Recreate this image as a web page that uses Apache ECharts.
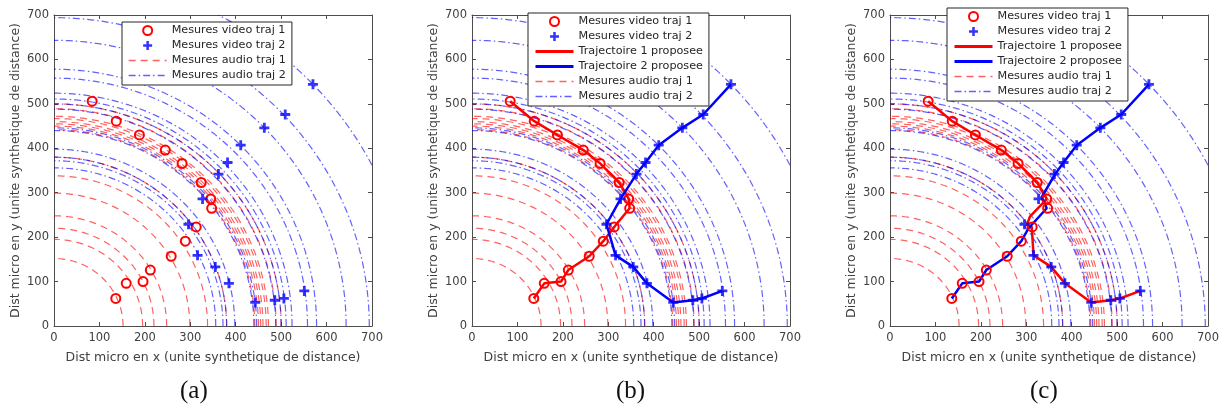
<!DOCTYPE html>
<html><head><meta charset="utf-8">
<script src="https://cdn.jsdelivr.net/npm/echarts@6/dist/echarts.min.js"></script>
<style>html,body{margin:0;padding:0;background:#fff}#c{width:1230px;height:412px}</style>
</head><body><div id="c"></div>
<script>
// ---------------- data ----------------
const axisTicks = [0, 100, 200, 300, 400, 500, 600, 700];
const panelLabels = ['(a)', '(b)', '(c)'];

const video1X = [136, 159, 196, 212, 258, 289, 313, 324, 345, 347, 282, 245, 188, 137, 84];
const video1Y = [62, 96, 100, 126, 157, 191, 223, 323, 286, 265, 366, 396, 430, 461, 506];
const video2X = [443, 486, 506, 551, 385, 355, 316, 296, 327, 362, 382, 411, 463, 509, 570];
const video2Y = [53, 58, 62, 79, 96, 133, 159, 229, 286, 342, 368, 407, 446, 476, 544];

const audio1R = [152, 195, 220, 248, 299, 338, 380, 442, 450, 455, 460, 467, 472, 489, 500];
const audio2R = [356, 372, 380, 398, 440, 446, 488, 500, 511, 524, 558, 578, 643, 694, 788];

const trajB1X = [136, 159, 196, 212, 258, 289, 313, 347, 345, 324, 282, 245, 188, 137, 84];
const trajB1Y = [62, 96, 100, 126, 157, 191, 223, 265, 286, 323, 366, 396, 430, 461, 506];
const trajB2X = [551, 506, 486, 443, 385, 355, 316, 296, 327, 362, 382, 411, 463, 509, 570];
const trajB2Y = [79, 62, 58, 53, 96, 133, 159, 229, 286, 342, 368, 407, 446, 476, 544];

const trajC1X = [84, 137, 188, 245, 282, 324, 345, 337, 308, 301, 312, 316, 355, 385, 443, 486, 506, 551];
const trajC1Y = [506, 461, 430, 396, 366, 323, 286, 277, 246, 227, 223, 159, 133, 96, 53, 58, 62, 79];
const trajC2X = [136, 159, 196, 212, 258, 289, 305, 345, 334, 363, 382, 411, 463, 509, 570];
const trajC2Y = [62, 96, 100, 126, 157, 191, 220, 265, 290, 341, 368, 407, 446, 476, 544];

// ---------------- helpers ----------------
const N_V1 = 'Mesures video traj 1', N_V2 = 'Mesures video traj 2';
const N_T1 = 'Trajectoire 1 proposee', N_T2 = 'Trajectoire 2 proposee';
const N_A1 = 'Mesures audio traj 1', N_A2 = 'Mesures audio traj 2';
const AX_MIN = axisTicks[0], AX_MAX = axisTicks[axisTicks.length - 1];

function zip(xs, ys) { return xs.map((x, i) => [x, ys[i]]); }
function arcs(radii) {
  const pts = [];
  radii.forEach(r => {
    const t0 = r > AX_MAX ? Math.acos(AX_MAX / r) : 0;
    const t1 = r > AX_MAX ? Math.asin(AX_MAX / r) : Math.PI / 2;
    const n = 120;
    for (let k = 0; k <= n; k++) {
      const t = t0 + (t1 - t0) * k / n;
      pts.push([r * Math.cos(t), r * Math.sin(t)]);
    }
    pts.push(['-', '-']);
  });
  return pts;
}
const plusPath = 'path://M3.6,0H6.4V3.6H10V6.4H6.4V10H3.6V6.4H0V3.6H3.6Z';

const gridLefts = [54, 472, 890];
const GW = 318, GTOP = 15, GH = 311;
const axisColor = '#4d4d4d', labelColor = '#404040';
const FONT = 'DejaVu Sans';

const grids = [], xAxes = [], yAxes = [], series = [], legends = [], graphics = [];
const hiddenSym = { color: 'transparent', borderColor: 'transparent', borderWidth: 0, opacity: 0 };

gridLefts.forEach((left, i) => {
  grids.push({ left: left, top: GTOP, width: GW, height: GH, containLabel: false });
  const common = {
    gridIndex: i, type: 'value', min: AX_MIN, max: AX_MAX, interval: axisTicks[1] - axisTicks[0],
    axisLine: { show: true, onZero: false, lineStyle: { color: axisColor, width: 1 } },
    axisTick: { show: true, inside: true, length: 4, lineStyle: { color: axisColor } },
    splitLine: { show: false }
  };
  xAxes.push(Object.assign({}, common, {
    position: 'bottom',
    axisLabel: { fontSize: 11.5, color: labelColor, margin: 6, fontFamily: FONT },
    name: 'Dist micro en x (unite synthetique de distance)', nameLocation: 'middle', nameGap: 25,
    nameTextStyle: { fontSize: 12.5, color: labelColor, fontFamily: FONT }
  }));
  xAxes.push(Object.assign({}, common, { position: 'top', axisLabel: { show: false } }));
  yAxes.push(Object.assign({}, common, {
    position: 'left',
    axisLabel: { fontSize: 11.5, color: labelColor, margin: 5, fontFamily: FONT },
    name: 'Dist micro en y (unite synthetique de distance)', nameLocation: 'middle', nameGap: 32,
    nameTextStyle: { fontSize: 12.5, color: labelColor, fontFamily: FONT }
  }));
  yAxes.push(Object.assign({}, common, { position: 'right', axisLabel: { show: false } }));

  const xi = i * 2, yi = i * 2;
  series.push({
    name: N_A1, type: 'line', xAxisIndex: xi, yAxisIndex: yi, data: arcs(audio1R),
    symbol: 'none', connectNulls: false, silent: true, z: 1,
    lineStyle: { color: 'rgba(255,0,0,0.62)', width: 1.2, type: [7, 5] },
    itemStyle: hiddenSym
  });
  series.push({
    name: N_A2, type: 'line', xAxisIndex: xi, yAxisIndex: yi, data: arcs(audio2R),
    symbol: 'none', connectNulls: false, silent: true, z: 1,
    lineStyle: { color: 'rgba(0,0,255,0.62)', width: 1.2, type: [7, 3, 1.5, 3] },
    itemStyle: hiddenSym
  });
  if (i > 0) {
    const t1 = i === 1 ? zip(trajB1X, trajB1Y) : zip(trajC1X, trajC1Y);
    const t2 = i === 1 ? zip(trajB2X, trajB2Y) : zip(trajC2X, trajC2Y);
    series.push({
      name: N_T1, type: 'line', xAxisIndex: xi, yAxisIndex: yi, data: t1, symbol: 'none', z: 3,
      lineStyle: { color: '#ff0000', width: 2.5 }, itemStyle: hiddenSym
    });
    series.push({
      name: N_T2, type: 'line', xAxisIndex: xi, yAxisIndex: yi, data: t2, symbol: 'none', z: 3,
      lineStyle: { color: '#0000ff', width: 2.5 }, itemStyle: hiddenSym
    });
  }
  series.push({
    name: N_V1, type: 'scatter', xAxisIndex: xi, yAxisIndex: yi, data: zip(video1X, video1Y),
    symbol: 'circle', symbolSize: 9, z: 4,
    itemStyle: { color: 'transparent', borderColor: '#ff0000', borderWidth: 2, opacity: 1 }
  });
  series.push({
    name: N_V2, type: 'scatter', xAxisIndex: xi, yAxisIndex: yi, data: zip(video2X, video2Y),
    symbol: plusPath, symbolSize: 10, z: 4,
    itemStyle: { color: '#0000ff' }
  });

  graphics.push({
    type: 'text', left: [180, 616, 1030][i], top: 379,
    style: { text: panelLabels[i], font: '25px "Liberation Serif"', fill: '#111' }
  });
});

function legendItems(names) {
  return names.map(n => {
    if (n === N_V1 || n === N_V2) return { name: n };
    if (n === N_T1) return { name: n, itemStyle: hiddenSym, lineStyle: { width: 3, color: '#ff0000' } };
    if (n === N_T2) return { name: n, itemStyle: hiddenSym, lineStyle: { width: 3, color: '#0000ff' } };
    return { name: n, itemStyle: hiddenSym, lineStyle: { width: 1.3 } };
  });
}
const legendCommon = {
  orient: 'vertical', itemWidth: 38, itemHeight: 9, itemGap: 4,
  backgroundColor: '#fff', borderColor: '#262626', borderWidth: 1, borderRadius: 0,
  padding: [3, 6, 4, 6], selectedMode: false,
  textStyle: { fontSize: 11.2, color: '#262626', fontFamily: FONT, lineHeight: 11 }
};
legends.push(Object.assign({}, legendCommon, { left: 122, top: 22, data: legendItems([N_V1, N_V2, N_A1, N_A2]) }));
legends.push(Object.assign({}, legendCommon, { left: 528, top: 13, data: legendItems([N_V1, N_V2, N_T1, N_T2, N_A1, N_A2]) }));
legends.push(Object.assign({}, legendCommon, { left: 947, top: 8, data: legendItems([N_V1, N_V2, N_T1, N_T2, N_A1, N_A2]) }));

const chart = echarts.init(document.getElementById('c'), null, { renderer: 'canvas' });
chart.setOption({
  animation: false, backgroundColor: '#fff',
  grid: grids, xAxis: xAxes, yAxis: yAxes, series: series, legend: legends, graphic: graphics
});
</script></body></html>
